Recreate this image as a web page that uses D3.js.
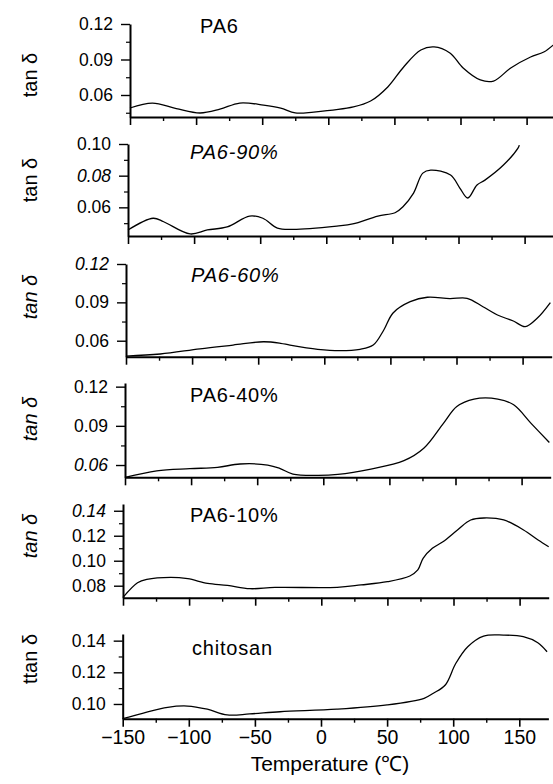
<!DOCTYPE html>
<html>
<head>
<meta charset="utf-8">
<script src="https://cdn.jsdelivr.net/npm/d3@7"></script>
<style>
body { margin: 0; background: #fff; }
svg { display: block; font-family: "Liberation Sans", Arial, sans-serif; }
</style>
</head>
<body>
<svg id="chart" width="553" height="784"></svg>
<script>
// tan delta traces, [temperature in C, tan delta]
var pa6 = [[-150,0.049],[-133,0.0532],[-115,0.0485],[-97,0.0448],[-82,0.048],[-67,0.0532],[-49,0.0515],[-36,0.049],[-25,0.0448],[-11,0.0456],[19,0.0499],[32,0.0549],[45,0.0668],[57,0.0837],[70,0.098],[80,0.1006],[92,0.0955],[102,0.0828],[115,0.0727],[125,0.0718],[138,0.0828],[153,0.0921],[163,0.0963],[172,0.104]];
var pa6_90 = [[-150,0.0457],[-131,0.0531],[-123,0.0509],[-103,0.0432],[-90,0.0457],[-75,0.0476],[-58,0.0545],[-48,0.0531],[-37,0.0469],[-25,0.0461],[8,0.0482],[20,0.0495],[39,0.0545],[52,0.0566],[58,0.0604],[66,0.069],[73,0.0816],[79,0.0835],[94,0.0804],[101,0.0722],[107,0.0659],[114,0.0741],[120,0.0772],[134,0.0867],[145,0.0974],[146,0.0993]];
var pa6_60 = [[-150,0.048],[-124,0.0496],[-94,0.0537],[-69,0.0566],[-46,0.0592],[-33,0.058],[-26,0.0566],[-5,0.0533],[12,0.0522],[27,0.0533],[37,0.0566],[45,0.0684],[52,0.0817],[65,0.0905],[78,0.094],[95,0.0929],[108,0.0932],[120,0.0866],[131,0.0801],[143,0.0754],[152,0.071],[161,0.0775],[171,0.0898]];
var pa6_40 = [[-150,0.0505],[-126,0.0556],[-101,0.0572],[-80,0.0582],[-63,0.0608],[-42,0.06],[-33,0.0575],[-23,0.0531],[-5,0.0521],[11,0.0528],[36,0.0569],[61,0.0633],[76,0.0728],[91,0.0921],[101,0.1048],[114,0.1105],[132,0.1105],[144,0.1061],[157,0.0921],[171,0.0772]];
var pa6_10 = [[-150,0.0707],[-139,0.0824],[-132,0.0851],[-114,0.0867],[-101,0.0856],[-86,0.0819],[-71,0.0803],[-54,0.0776],[-35,0.0786],[12,0.0787],[30,0.0806],[50,0.0832],[67,0.0878],[73,0.0926],[77,0.1019],[84,0.1099],[92,0.1152],[103,0.1246],[113,0.1326],[123,0.1342],[138,0.1326],[153,0.1246],[164,0.1166],[172,0.1112]];
var chitosan = [[-150,0.0907],[-135,0.0941],[-116,0.0979],[-101,0.0987],[-86,0.0967],[-71,0.0931],[-54,0.0937],[-31,0.0951],[12,0.0967],[50,0.0994],[78,0.1036],[85,0.1068],[94,0.112],[102,0.1257],[111,0.1362],[123,0.1429],[138,0.1435],[153,0.1425],[164,0.1387],[171,0.133]];

var series = [pa6, pa6_90, pa6_60, pa6_40, pa6_10, chitosan];
var titles = ["PA6", "PA6-90%", "PA6-60%", "PA6-40%", "PA6-10%", "chitosan"];
var yLabels = ["tan δ", "tan δ", "tan δ", "tan δ", "tan δ", "ttan δ"];
var yDomains = [[0.0414,0.12],[0.0419,0.10],[0.0475,0.12],[0.0506,0.1228],[0.0704,0.1454],[0.0907,0.1442]];
var yTicks = [[0.06,0.09,0.12],[0.06,0.08,0.10],[0.06,0.09,0.12],[0.06,0.09,0.12],[0.08,0.10,0.12,0.14],[0.10,0.12,0.14]];
var yMinor = [[0.045,0.075,0.105],[0.05,0.07,0.09],[0.075,0.105],[0.075,0.105],[0.09,0.11,0.13],[0.11,0.13]];
var xTicks = [-150,-100,-50,0,50,100,150];
var xMinor = [-125,-75,-25,25,75,125];
var xDomain = [-150, 172];

// page layout of each panel (axis corner, top of y axis, x axis line, text spots)
var layout = [
  {x0:130,  top:24,  bottom:117,   titleX:200, titleY:33,  labelY:75,  titleItalic:false, labelItalic:false},
  {x0:128,  top:144, bottom:236,   titleX:190, titleY:159, labelY:180, titleItalic:true,  labelItalic:false},
  {x0:126,  top:264, bottom:356.7, titleX:191, titleY:282, labelY:297, titleItalic:true,  labelItalic:true},
  {x0:125,  top:383, bottom:477.3, titleX:190, titleY:402, labelY:419, titleItalic:false, labelItalic:true},
  {x0:123,  top:504, bottom:597.7, titleX:190, titleY:522, labelY:536, titleItalic:false, labelItalic:true},
  {x0:122.7,top:634, bottom:718.7, titleX:192, titleY:655, labelY:659, titleItalic:false, labelItalic:false}
];
var italicTicks = [[], [0.08], [0.12], [0.06], [0.14], []];
var pxPerDeg = 1.322;

var svg = d3.select("#chart");
var fmt = d3.format(".2f");

series.forEach(function(data, i) {
  var L = layout[i];
  var x = d3.scaleLinear().domain(xDomain)
      .range([L.x0, L.x0 + (xDomain[1] - xDomain[0]) * pxPerDeg]);
  var y = d3.scaleLinear().domain(yDomains[i]).range([L.bottom, L.top]);
  var g = svg.append("g");

  // x axis
  var xa = g.append("g")
      .attr("transform", "translate(0," + L.bottom + ")")
      .call(d3.axisBottom(x).tickValues(xTicks).tickSize(8).tickSizeOuter(0).tickPadding(3)
        .tickFormat(i == series.length - 1 ? d3.format("") : ""));
  xa.select(".domain").attr("stroke-width", 2);
  xa.selectAll(".tick line").attr("stroke-width", 1.6);
  xa.selectAll("text").attr("font-size", 19.5).attr("fill", "#000");
  g.append("g")
      .attr("transform", "translate(0," + L.bottom + ")")
      .call(d3.axisBottom(x).tickValues(xMinor).tickSize(4).tickFormat(""))
      .call(function(s) { s.select(".domain").remove(); })
      .selectAll(".tick line").attr("stroke-width", 1.4);

  // y axis
  var ya = g.append("g")
      .attr("transform", "translate(" + L.x0 + ",0)")
      .call(d3.axisLeft(y).tickValues(yTicks[i]).tickSize(9).tickSizeOuter(0).tickPadding(8).tickFormat(fmt));
  ya.select(".domain").attr("stroke-width", 2);
  ya.selectAll(".tick line").attr("stroke-width", 1.4);
  ya.selectAll("text").attr("font-size", 17.5).attr("fill", "#000")
    .attr("font-style", function(d) { return italicTicks[i].indexOf(d) >= 0 ? "italic" : "normal"; });
  g.append("g")
      .attr("transform", "translate(" + L.x0 + ",0)")
      .call(d3.axisLeft(y).tickValues(yMinor[i]).tickSize(4).tickFormat(""))
      .call(function(s) { s.select(".domain").remove(); })
      .selectAll(".tick line").attr("stroke-width", 1.2);

  // y label
  g.append("text")
      .attr("transform", "translate(37," + L.labelY + ") rotate(-90)")
      .attr("text-anchor", "middle")
      .attr("font-size", 20)
      .attr("font-style", L.labelItalic ? "italic" : "normal")
      .text(yLabels[i]);

  // panel title
  g.append("text")
      .attr("x", L.titleX)
      .attr("y", L.titleY)
      .attr("font-size", 20)
      .attr("letter-spacing", 0.8)
      .attr("font-style", L.titleItalic ? "italic" : "normal")
      .text(titles[i]);

  var line = d3.line()
      .x(function(d) { return x(d[0]); })
      .y(function(d) { return y(d[1]); })
      .curve(d3.curveCatmullRom);

  g.append("path")
      .datum(data)
      .attr("fill", "none")
      .attr("stroke", "#000")
      .attr("stroke-width", 1.3)
      .attr("d", line);
});

svg.append("text")
    .attr("x", 330)
    .attr("y", 771)
    .attr("text-anchor", "middle")
    .attr("font-size", 21)
    .text("Temperature (℃)");
</script>
</body>
</html>
